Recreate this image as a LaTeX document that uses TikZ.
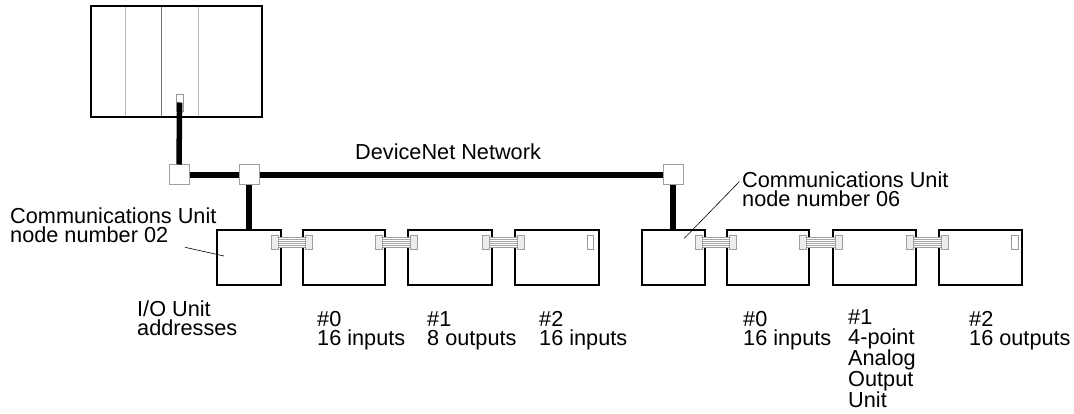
\documentclass[tikz,border=0pt]{standalone}
\usepackage{fontspec}
\setmainfont{Liberation Sans}
\usetikzlibrary{calc}
\newcommand\mkribbon[2]{%
  \coordinate (ra) at ($(#1.north east)+(-10,6)$);
  \coordinate (rb) at ($(#2.north west)+(10,20)$);
  \draw[ribstyle] ($(ra)+(6.5,2)$) rectangle ($(rb)+(-6.5,-2)$);
  \foreach \k in {4,6,8,10} \draw[ribline] ($(ra)+(6.5,\k)$) -- ($(rb)+(-6.5,{\k-14})$);
  \draw[tabstyle] (ra) rectangle ($(ra)+(6.5,14)$);
  \draw[tabstyle] ($(rb)+(-6.5,-14)$) rectangle (rb);
}
\begin{document}
\begin{tikzpicture}[x=1pt,y=-1pt,
  unitbox/.style={draw, line width=1.3pt, fill=white, inner sep=0pt, minimum height=55pt},
  tapbox/.style={draw=gray!75, line width=1pt, fill=white, inner sep=0pt, minimum size=20pt},
  cable/.style={line width=5.5pt},
  lbl/.style={font=\fontsize{21.7pt}{19.5pt}\selectfont, anchor=base west, align=left, inner sep=0pt},
  leader/.style={line width=0.6pt},
  tabstyle/.style={draw=gray!75, fill=gray!15, line width=0.8pt},
  ribstyle/.style={draw=gray!75, fill=white, line width=0.8pt},
  ribline/.style={gray!70, line width=0.5pt},
  slot/.style={draw=gray!80, line width=0.8pt, fill=white}]
\useasboundingbox (0,0) rectangle (1074,414);

% PLC
\node[draw, line width=1.6pt, fill=white, inner sep=0pt, minimum width=171pt, minimum height=111pt] (plc) at (176.5,61.5) {};
\draw[gray!55, line width=0.8pt] (125,6.8) -- (125,116.2);
\draw[gray!90!black, line width=0.8pt] (161.7,6.8) -- (161.7,116.2);
\draw[gray!55, line width=0.8pt] (198,6.8) -- (198,116.2);
\node[draw=gray!80, line width=0.8pt, fill=white, inner sep=0pt, minimum width=7pt, minimum height=17pt] (port) at (179.6,102.5) {};

% taps
\node[tapbox] (t1) at (179,175) {};
\node[tapbox] (t2) at (249,175) {};
\node[tapbox] (t3) at (673,175) {};

% units
\node[unitbox, minimum width=64pt] (cu1) at (249,257.5) {};
\node[unitbox, minimum width=82pt] (l0) at (344,257.5) {};
\node[unitbox, minimum width=84pt] (l1) at (450,257.5) {};
\node[unitbox, minimum width=84pt] (l2) at (557,257.5) {};
\node[unitbox, minimum width=63pt] (cu2) at (673.5,257.5) {};
\node[unitbox, minimum width=82pt] (r0) at (768,257.5) {};
\node[unitbox, minimum width=83pt] (r1) at (874.5,257.5) {};
\node[unitbox, minimum width=83pt] (r2) at (980.5,257.5) {};

% cables
\draw[cable] (port.center) -- (t1.north);
\draw[cable] (t1.east) -- (t2.west);
\draw[cable] (t2.east) -- (t3.west);
\draw[cable] (t2.south) -- (t2.south |- cu1.north);
\draw[cable] (t3.south) -- (t3.south |- cu2.north);

% ribbon connectors
\mkribbon{cu1}{l0}
\mkribbon{l0}{l1}
\mkribbon{l1}{l2}
\mkribbon{cu2}{r0}
\mkribbon{r0}{r1}
\mkribbon{r1}{r2}

% slots in last units
\draw[slot] ($(l2.north east)+(-12,6.5)$) rectangle ($(l2.north east)+(-6,20)$);
\draw[slot] ($(r2.north east)+(-11,6.5)$) rectangle ($(r2.north east)+(-4.5,20)$);

% labels (anchor = baseline of last line)
\node[lbl] (net) at (355,160) {DeviceNet Network};
\node[lbl] (cul1) at (10,243) {Communications Unit\\node number 02};
\node[lbl] (cul2) at (742,207) {Communications Unit\\node number 06};
\coordinate (lead1) at (185,247.3);
\coordinate (lead2) at (739.3,181.7);
\draw[leader] (lead1) -- (224,256);
\draw[leader] (lead2) -- (684.3,238.3);

\node[lbl] (ioa) at (137,335.5) {I/O Unit\\addresses};
\node[lbl] (al0) at (317,345.5) {\#0\\16 inputs};
\node[lbl] (al1) at (427,345.5) {\#1\\8 outputs};
\node[lbl] (al2) at (539,345.5) {\#2\\16 inputs};
\node[lbl] (ar0) at (743,345.5) {\#0\\16 inputs};
\node[lbl, font=\fontsize{21.7pt}{20.2pt}\selectfont] (ar1) at (848,407.3) {\#1\\4-point\\Analog\\Output\\Unit};
\node[lbl] (ar2) at (969,345.5) {\#2\\16 outputs};
\end{tikzpicture}
\end{document}
